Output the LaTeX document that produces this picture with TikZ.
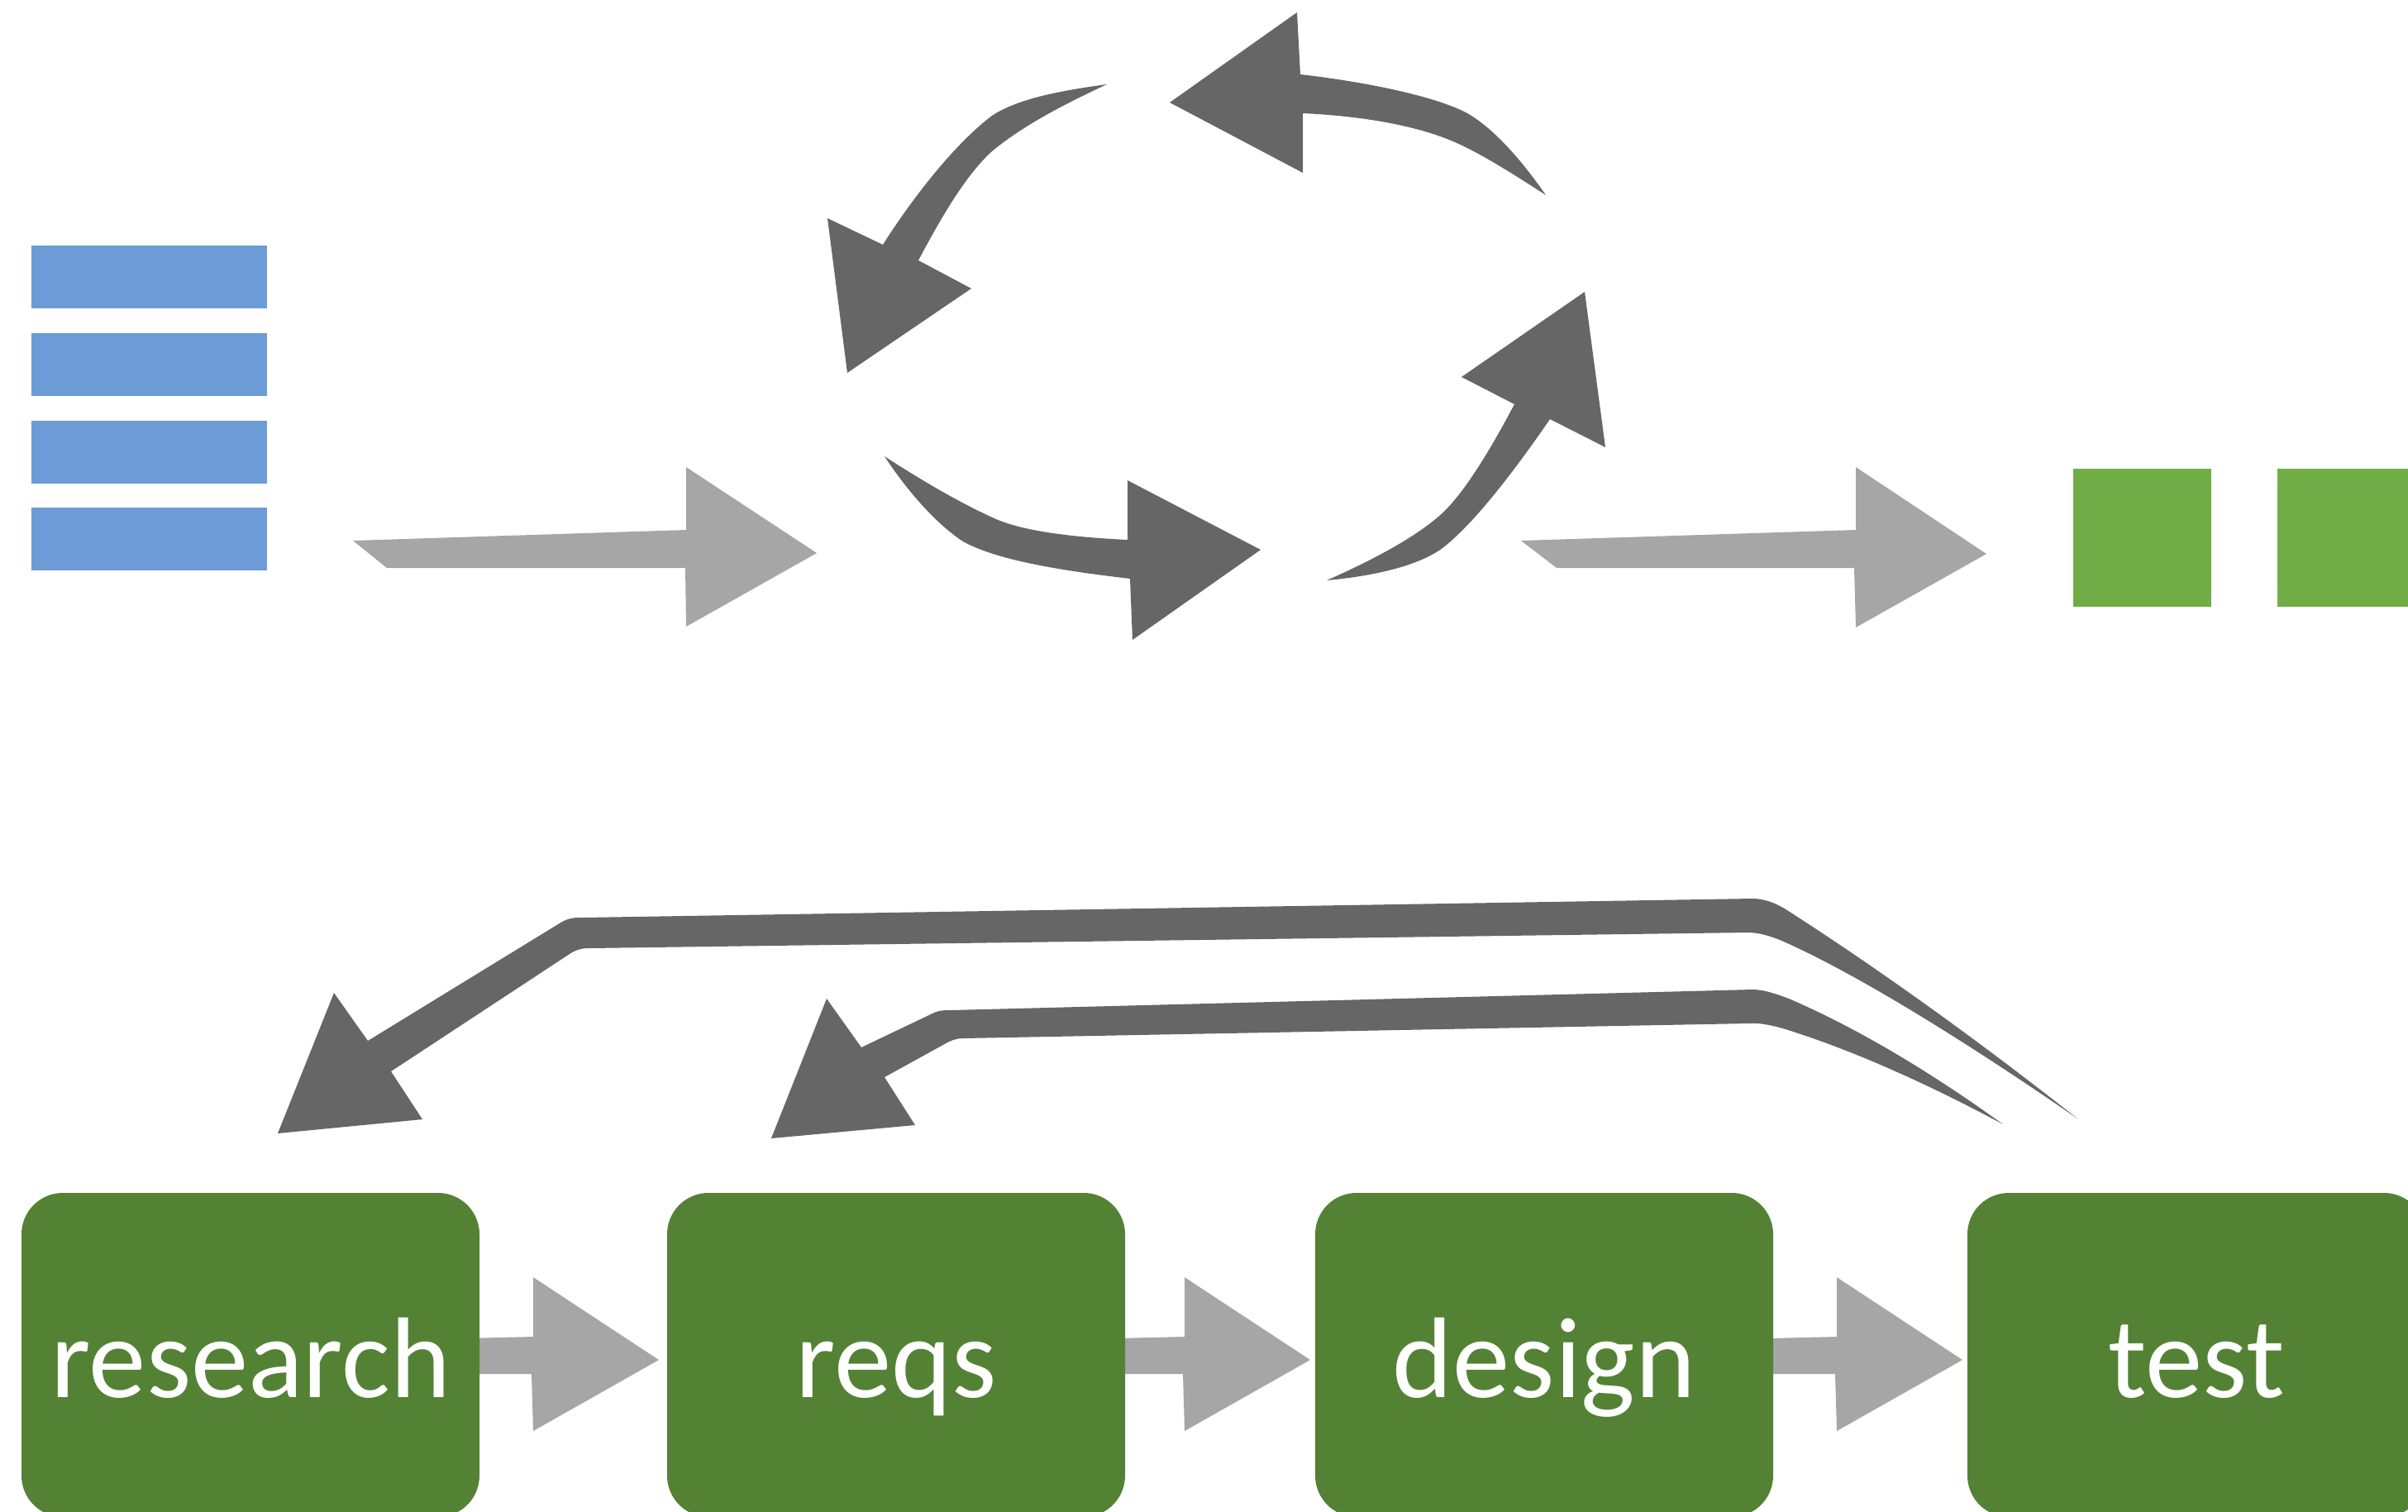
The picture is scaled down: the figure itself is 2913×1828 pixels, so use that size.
\documentclass[tikz,border=0pt]{standalone}
\usepackage{fontspec}
\setmainfont{Carlito}
\definecolor{barblue}{HTML}{6C9BD5}
\definecolor{sqgreen}{HTML}{70AD47}
\definecolor{boxgreen}{HTML}{548235}
\definecolor{lightarrow}{HTML}{A6A6A6}
\definecolor{darkarrow}{HTML}{666666}
\tikzset{
  stage/.style={rectangle, rounded corners=5mm, fill=boxgreen, draw=none,
    minimum width=55.4mm, minimum height=39.2mm, inner sep=0pt,
    text=white, font=\fontsize{39.5}{46}\selectfont,
    text height=10.2mm, text depth=0pt},
  flowarrow/.style={fill=lightarrow, draw=none},
  looparrow/.style={fill=darkarrow, draw=none},
  bar/.style={fill=barblue, draw=none},
  square/.style={fill=sqgreen, draw=none}
}
\begin{document}
\begin{tikzpicture}[x=0.1mm, y=-0.1mm]
\useasboundingbox (0,0) rectangle (2913,1828);
\clip (0,0) rectangle (2913,1828);

% stacked input items
\foreach \t in {297,403,509,614}
  \fill[bar] (38,\t) rectangle (323,\t+76);

% delivered items
\fill[square] (2508,567) rectangle (2675,734);
\fill[square] (2755,567) rectangle (2960,734);

% input and output flow arrows
\fill[flowarrow] (427,654) -- (830,641) -- (830,565) -- (988,669) -- (830,758)
  -- (829,687) -- (468,687) -- cycle;
\fill[flowarrow] (1840,654) -- (2245,641) -- (2245,565) -- (2403,670) -- (2245,759)
  -- (2243,687) -- (1883,687) -- cycle;

% iteration cycle: top arrow (pointing left)
\fill[looparrow] (1415,124) -- (1569,15) -- (1573,90)
  .. controls (1660,100) and (1740,118) .. (1775,137)
  .. controls (1810,157) and (1845,200) .. (1870,236)
  .. controls (1830,210) and (1790,185) .. (1760,172)
  .. controls (1710,150) and (1640,140) .. (1576,137)
  -- (1576,209) -- cycle;
% left arrow (pointing down)
\fill[looparrow] (1339,102)
  .. controls (1280,110) and (1230,120) .. (1200,140)
  .. controls (1160,170) and (1110,230) .. (1068,296)
  -- (1001,264) -- (1025,451) -- (1175,349) -- (1111,315)
  .. controls (1140,260) and (1170,210) .. (1200,183)
  .. controls (1240,150) and (1290,125) .. (1339,102) -- cycle;
% bottom arrow (pointing right)
\fill[looparrow] (1070,552)
  .. controls (1095,590) and (1130,632) .. (1165,655)
  .. controls (1210,680) and (1300,692) .. (1367,700)
  -- (1370,774) -- (1525,665) -- (1364,581) -- (1364,653)
  .. controls (1300,650) and (1240,643) .. (1205,628)
  .. controls (1160,608) and (1110,578) .. (1070,552) -- cycle;
% right arrow (pointing up)
\fill[looparrow] (1605,702)
  .. controls (1660,697) and (1715,685) .. (1745,663)
  .. controls (1785,632) and (1835,565) .. (1875,507)
  -- (1942,541) -- (1917,353) -- (1768,456) -- (1832,489)
  .. controls (1805,540) and (1770,600) .. (1740,625)
  .. controls (1705,655) and (1650,682) .. (1605,702) -- cycle;

% arrows between the stages (partly hidden behind the boxes)
\foreach \dx in {0,788,1577}
  \fill[flowarrow, shift={(\dx,0)}] (560,1619) -- (645,1617) -- (645,1545)
    -- (797,1645) -- (645,1731) -- (643,1662) -- (560,1662) -- cycle;

% stages
\node[stage] (research) at (303,1639) {research};
\node[stage] (reqs)     at (1084,1639) {reqs};
\node[stage] (design)   at (1868,1639) {design};
\node[stage] (test)     at (2657,1639) {test};

% feedback from test back to research
\fill[looparrow] (445,1259) -- (680,1115)
  .. controls (690,1110) and (695,1110) .. (705,1110)
  -- (2120,1087)
  .. controls (2135,1087) and (2150,1093) .. (2165,1103)
  .. controls (2300,1190) and (2420,1280) .. (2513,1353)
  .. controls (2400,1275) and (2260,1185) .. (2160,1140)
  .. controls (2140,1131) and (2125,1128) .. (2115,1128)
  -- (712,1147)
  .. controls (705,1147) and (700,1148) .. (692,1152)
  -- (473,1296) -- (511,1354) -- (336,1371) -- (404,1201) -- cycle;

% feedback from test back to reqs
\fill[looparrow] (1042,1267) -- (1130,1225)
  .. controls (1137,1222) and (1142,1222) .. (1150,1222)
  -- (2120,1197)
  .. controls (2135,1197) and (2150,1203) .. (2164,1208)
  .. controls (2250,1245) and (2340,1300) .. (2423,1360)
  .. controls (2330,1310) and (2240,1270) .. (2160,1245)
  .. controls (2140,1239) and (2125,1237) .. (2115,1238)
  -- (1165,1256)
  .. controls (1158,1256) and (1153,1258) .. (1148,1260)
  -- (1070,1303) -- (1107,1361) -- (933,1377) -- (1000,1208) -- cycle;
\end{tikzpicture}
\end{document}
